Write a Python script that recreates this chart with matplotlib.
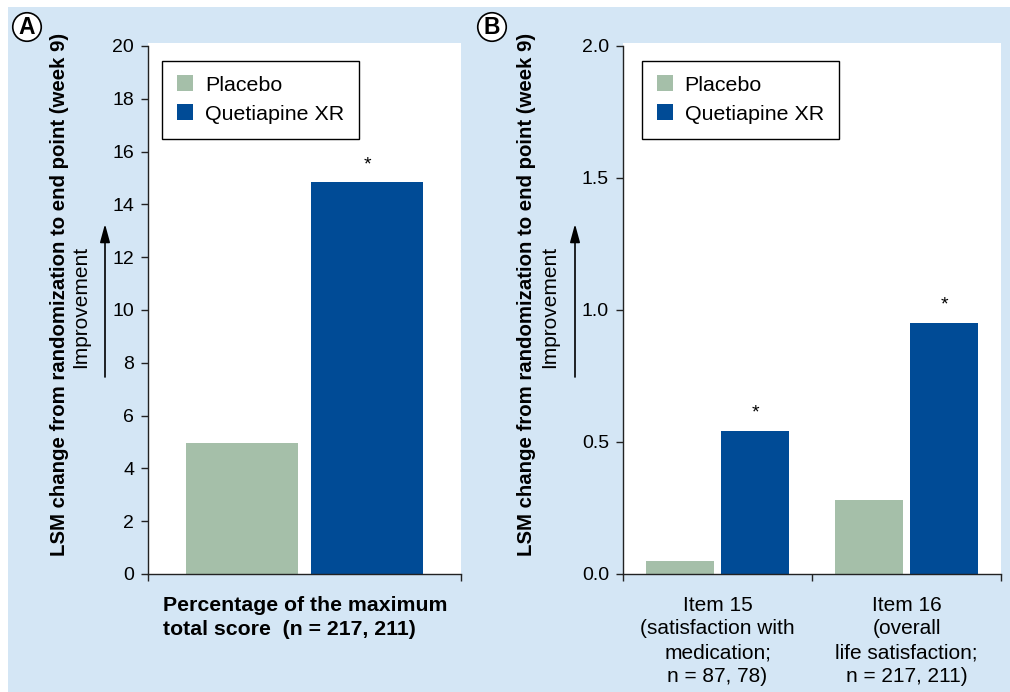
import matplotlib.pyplot as plt
from matplotlib.patches import Rectangle, FancyArrowPatch
import numpy as np

plt.rcParams["font.family"] = "Liberation Sans"

# data
groups = ["Placebo", "Quetiapine XR"]
colors = ["#a5bfa9", "#004b96"]

pct_max_a = [4.95, 14.85]

items_b = [
    "Item 15\n(satisfaction with\nmedication;\nn = 87, 78)",
    "Item 16\n(overall\nlife satisfaction;\nn = 217, 211)",
]
placebo_b = [0.05, 0.28]
quetiapine_b = [0.54, 0.95]

yticks_a = np.arange(0, 21, 2)
yticks_b = [0.0, 0.5, 1.0, 1.5, 2.0]

ylabel = "LSM change from randomization to end point (week 9)"
xlabel_a = "Percentage of the maximum\ntotal score  (n = 217, 211)"

W, H = 1010, 692
bg = "#d4e6f5"
bar_w = 0.36
off = 0.2

fig = plt.figure(figsize=(W / 100, H / 100), dpi=100, facecolor="white")
fig.add_artist(
    Rectangle((8 / W, 0), 1, 1 - 7 / H, transform=fig.transFigure,
              facecolor=bg, edgecolor="none", zorder=-10)
)

ax_a = fig.add_axes([148 / W, 118 / H, 313 / W, 531 / H])
ax_b = fig.add_axes([623 / W, 118 / H, 378 / W, 531 / H])


def style_axis(ax, ymax, yticks, fmt):
    ax.set_facecolor("white")
    ax.set_ylim(0, ymax * 531 / 528)
    ax.spines["top"].set_visible(False)
    ax.spines["right"].set_visible(False)
    for s in ("left", "bottom"):
        ax.spines[s].set_color("#222222")
        ax.spines[s].set_linewidth(1.0)
    ax.spines["left"].set_bounds(0, ymax)
    ax.set_yticks(yticks)
    ax.set_yticklabels([fmt.format(t) for t in yticks])
    ax.tick_params(axis="y", direction="out", length=5, width=1.0,
                   pad=5, labelsize=14, color="#222222")
    ax.tick_params(axis="x", which="major", direction="out", length=5,
                   width=1.0, color="#222222", labelbottom=False)


# panel A
xa = np.arange(1)
ax_a.bar(xa - off, pct_max_a[0], bar_w, color=colors[0], label=groups[0])
ax_a.bar(xa + off, pct_max_a[1], bar_w, color=colors[1], label=groups[1])
ax_a.set_xlim(-0.5, 0.5)
style_axis(ax_a, 20, yticks_a, "{:.0f}")
ax_a.set_xticks([-0.5, 0.5])
ax_a.annotate("*", (xa[0] + off, pct_max_a[1]), xytext=(0, 9),
              textcoords="offset points", ha="center", va="baseline",
              fontsize=14)

# panel B
xb = np.arange(len(items_b))
ax_b.bar(xb - off, placebo_b, bar_w, color=colors[0], label=groups[0])
ax_b.bar(xb + off, quetiapine_b, bar_w, color=colors[1], label=groups[1])
ax_b.set_xlim(-0.5, len(items_b) - 0.5)
style_axis(ax_b, 2.0, yticks_b, "{:.1f}")
ax_b.set_xticks(np.arange(-0.5, len(items_b), 1))
ax_b.set_xticks(xb, minor=True)
ax_b.set_xticklabels(items_b, minor=True, fontsize=15, linespacing=1.33)
ax_b.tick_params(axis="x", which="minor", length=0, pad=15.5)
for x, v in zip(xb, quetiapine_b):
    ax_b.annotate("*", (x + off, v), xytext=(0, 10),
                  textcoords="offset points", ha="center", va="baseline",
                  fontsize=14)

for ax, lx in ((ax_a, 0.045), (ax_b, 0.05)):
    leg = ax.legend(loc="upper left", bbox_to_anchor=(lx, 0.967),
                    borderaxespad=0, fancybox=False, edgecolor="black",
                    framealpha=1, fontsize=15.4, handlelength=0.75,
                    handleheight=0.75, borderpad=0.7, labelspacing=0.45,
                    handletextpad=0.55)
    leg.get_frame().set_linewidth(1.0)

# y labels, improvement arrows, panel letters
for lab_x, imp_x, arr_x, letter, let_x in ((60, 81, 105, "A", 27),
                                           (526, 550, 575, "B", 492)):
    fig.text(lab_x / W, 1 - 294 / H, ylabel, rotation=90, ha="center",
             va="center", fontsize=14.7, fontweight="bold")
    fig.text(imp_x / W, 1 - 307 / H, "Improvement", rotation=90,
             ha="center", va="center", fontsize=15)
    fig.add_artist(FancyArrowPatch(
        (arr_x / W, 1 - 377 / H), (arr_x / W, 1 - 224 / H),
        transform=fig.transFigure,
        arrowstyle="-|>,head_length=1.1,head_width=0.3",
        color="black", lw=1.2, mutation_scale=10, shrinkA=0, shrinkB=0))
    fig.text(let_x / W, 1 - 27 / H, letter, ha="center", va="center",
             fontsize=16.5, fontweight="bold",
             bbox=dict(boxstyle="circle,pad=0.12", facecolor="white",
                       edgecolor="black", linewidth=1.2))

fig.text(163 / W, 1 - 596 / H, xlabel_a, ha="left", va="top",
         fontsize=15.3, fontweight="bold", linespacing=1.35)

fig.savefig("out.png", dpi=100, facecolor="white")
